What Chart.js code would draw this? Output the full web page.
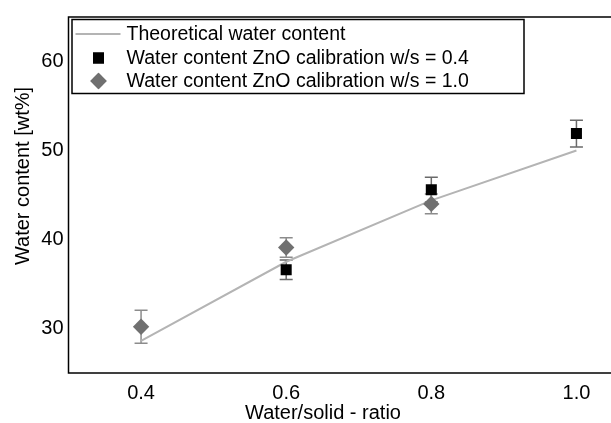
<!DOCTYPE html>
<html>
<head>
<meta charset="utf-8">
<script src="https://cdn.jsdelivr.net/npm/chart.js@4.4.1/dist/chart.umd.min.js"></script>
<style>
  html, body { margin: 0; padding: 0; background: #fff; overflow: hidden; }
  #wrap { width: 611px; height: 423px; overflow: hidden; }
</style>
</head>
<body>
<div id="wrap"><canvas id="myChart" width="660" height="423"></canvas></div>
<script>
// water/solid ratios and the theoretical curve
const ratios = [0.4, 0.6, 0.8, 1.0];
const theoretical = [28.6, 37.5, 44.4, 50.0];

// ZnO calibration w/s = 0.4
const ws04Ratios = [0.6, 0.8, 1.0];
const ws04Values = [36.6, 45.6, 51.9];
const ws04Errors = [1.1, 1.4, 1.5];

// ZnO calibration w/s = 1.0
const ws10Ratios = [0.4, 0.6, 0.8];
const ws10Values = [30.2, 39.1, 44.0];
const ws10Errors = [1.85, 1.1, 1.1];

const xTicks = [0.4, 0.6, 0.8, 1.0];
const yTicks = [30, 40, 50, 60];

const FONT = '"Liberation Sans", Arial, sans-serif';

function points(xs, ys) {
    return xs.map((x, i) => ({ x: x, y: ys[i] }));
}

// vertical error bars with caps, drawn under the markers
const errorBars = {
    id: 'errorBars',
    beforeDatasetsDraw(chart) {
        const ctx = chart.ctx;
        const xs = chart.scales.x, ys = chart.scales.y;
        chart.data.datasets.forEach(ds => {
            if (!ds.errors) return;
            ctx.save();
            ctx.strokeStyle = ds.errorColor;
            ctx.lineWidth = 1.5;
            ds.data.forEach((p, i) => {
                const px = xs.getPixelForValue(p.x);
                const top = ys.getPixelForValue(p.y + ds.errors[i]);
                const bot = ys.getPixelForValue(p.y - ds.errors[i]);
                ctx.beginPath();
                ctx.moveTo(px, top); ctx.lineTo(px, bot);
                ctx.moveTo(px - 6.5, top); ctx.lineTo(px + 6.5, top);
                ctx.moveTo(px - 6.5, bot); ctx.lineTo(px + 6.5, bot);
                ctx.stroke();
            });
            ctx.restore();
        });
    }
};

// frame, legend box and axis titles
const decorations = {
    id: 'decorations',
    afterDraw(chart) {
        const ctx = chart.ctx;
        const a = chart.chartArea;
        ctx.save();
        ctx.strokeStyle = '#000';
        ctx.lineWidth = 1.5;
        ctx.strokeRect(a.left, a.top, a.right - a.left, a.bottom - a.top);

        // legend
        const lx = a.left + 3.5, ly = a.top + 2.5;
        const rows = [a.top + 17, a.top + 41, a.top + 64];
        ctx.strokeRect(lx, ly, 452, 74);
        ctx.font = '19.5px ' + FONT;
        ctx.fillStyle = '#000';
        ctx.textBaseline = 'middle';
        chart.data.datasets.forEach((ds, i) => {
            const y = rows[i];
            if (ds.showLine) {
                ctx.strokeStyle = ds.borderColor;
                ctx.lineWidth = 2;
                ctx.beginPath();
                ctx.moveTo(a.left + 7, y); ctx.lineTo(a.left + 52, y);
                ctx.stroke();
            } else {
                ctx.fillStyle = ds.backgroundColor;
                ctx.beginPath();
                Chart.helpers.drawPoint(ctx, {
                    pointStyle: ds.pointStyle,
                    radius: ds.pointRadius,
                    borderWidth: 0,
                    rotation: 0
                }, a.left + 30, y);
                ctx.fill();
            }
            ctx.fillStyle = '#000';
            ctx.fillText(ds.label, a.left + 58, y + 1);
        });

        // axis titles
        ctx.font = '20px ' + FONT;
        ctx.textAlign = 'center';
        ctx.textBaseline = 'alphabetic';
        ctx.fillText('Water/solid - ratio', 323, 419);
        ctx.translate(29, 176);
        ctx.rotate(-Math.PI / 2);
        ctx.fillText('Water content [wt%]', 0, 0);
        ctx.restore();
    }
};

const data = {
    datasets: [{
        label: 'Theoretical water content',
        data: points(ratios, theoretical),
        showLine: true,
        borderColor: '#b4b4b4',
        borderWidth: 2,
        pointRadius: 0,
        order: 3
    }, {
        label: 'Water content ZnO calibration w/s = 0.4',
        data: points(ws04Ratios, ws04Values),
        errors: ws04Errors,
        errorColor: '#6a6a6a',
        pointStyle: 'rect',
        pointRadius: 7.8,
        backgroundColor: '#000',
        borderWidth: 0,
        order: 2
    }, {
        label: 'Water content ZnO calibration w/s = 1.0',
        data: points(ws10Ratios, ws10Values),
        errors: ws10Errors,
        errorColor: '#8c8c8c',
        pointStyle: 'rectRot',
        pointRadius: 8.2,
        backgroundColor: '#707070',
        borderWidth: 0,
        order: 1
    }]
};

const config = {
    type: 'scatter',
    data: data,
    plugins: [errorBars, decorations],
    options: {
        responsive: false,
        animation: false,
        devicePixelRatio: 1,
        layout: { padding: { top: 15, right: 11, left: 0, bottom: 0 } },
        plugins: { legend: { display: false }, tooltip: { enabled: false } },
        scales: {
            x: {
                type: 'linear',
                min: 0.3,
                max: 1.1,
                afterFit: s => { s.height = 50; },
                afterBuildTicks: s => { s.ticks = xTicks.map(v => ({ value: v })); },
                grid: { display: false, drawTicks: false },
                border: { display: false },
                ticks: {
                    padding: 8,
                    color: '#000',
                    font: { family: FONT, size: 20 },
                    callback: v => v.toFixed(1)
                }
            },
            y: {
                type: 'linear',
                min: 25,
                max: 65,
                afterFit: s => { s.width = 68.5; },
                afterBuildTicks: s => { s.ticks = yTicks.map(v => ({ value: v })); },
                grid: { display: false, drawTicks: false },
                border: { display: false },
                ticks: {
                    padding: 5,
                    color: '#000',
                    font: { family: FONT, size: 20 },
                    callback: v => String(v)
                }
            }
        }
    }
};

const myChart = new Chart(document.getElementById('myChart').getContext('2d'), config);
</script>
</body>
</html>
